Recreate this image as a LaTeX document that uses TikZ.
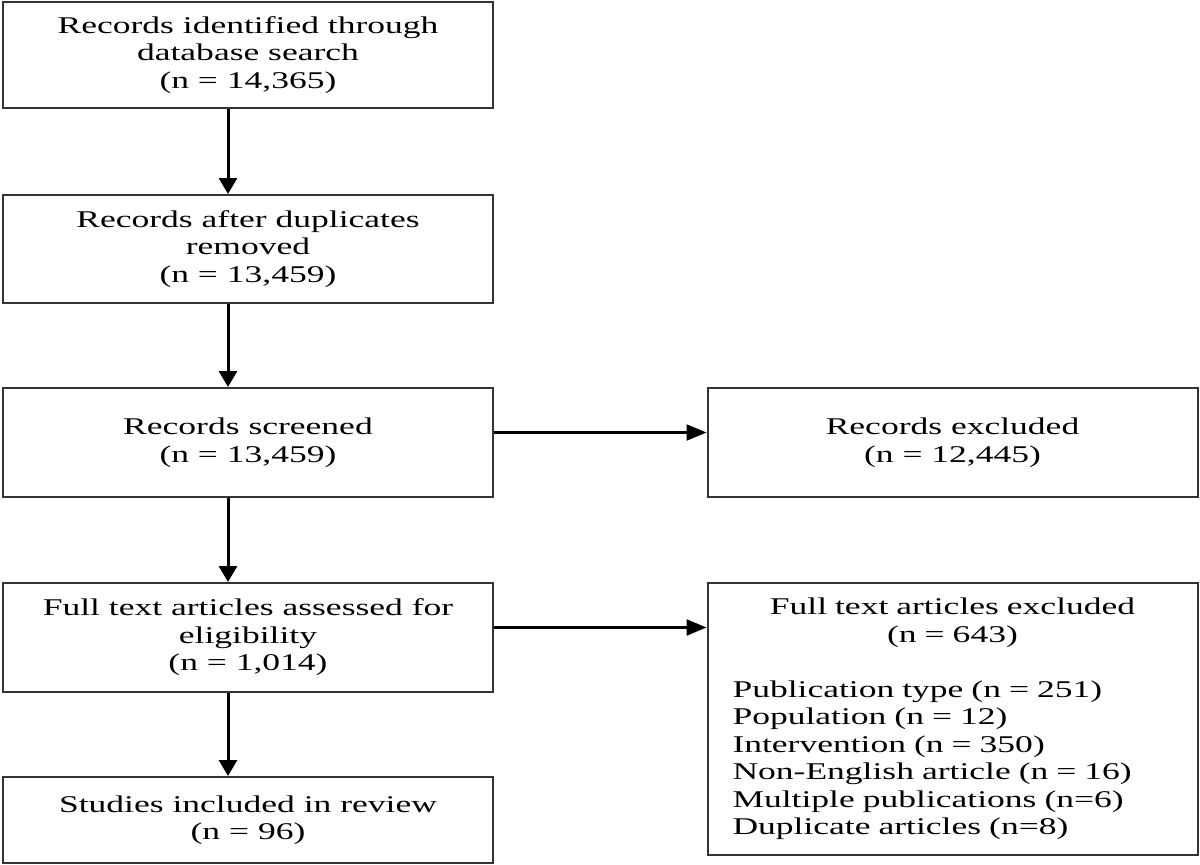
\documentclass[tikz,border=0pt]{standalone}
\usepackage{fontspec}
\setmainfont{Liberation Serif}[FakeStretch=1.48]
\usetikzlibrary{arrows.meta}
\tikzset{>=Triangle}
\tikzset{box/.style={draw=black!80, line width=2pt, minimum width=490pt, align=center, inner sep=0pt, font=\fontsize{24}{27.5}\selectfont}}

\begin{document}
\begin{tikzpicture}[x=1pt, y=-1pt]
\useasboundingbox (0,0) rectangle (1200,865);
\node[box, minimum height=106pt] (ident) at (248,55) {Records identified through\\database search\\(n = 14,365)};
\node[box, minimum height=108pt] (dupl) at (248,249) {Records after duplicates\\removed\\(n = 13,459)};
\node[box, minimum height=109pt] (screened) at (248,442.5) {Records screened\\(n = 13,459)};
\node[box, minimum height=109pt] (fulltext) at (248,637.5) {Full text articles assessed for\\eligibility\\(n = 1,014)};
\node[box, minimum height=86pt] (included) at (248,820) {Studies included in review\\(n = 96)};
\node[box, minimum height=109pt] (recexcl) at (952.5,442.5) {Records excluded\\(n = 12,445)};
\node[box, minimum height=272pt, text width=440pt, align=left] (fullexcl) at (952.5,719)
{{\centering Full text articles excluded\\(n = 643)\par}\vspace{\baselineskip}
Publication type (n = 251)\\
Population (n = 12)\\
Intervention (n = 350)\\
Non-English article (n = 16)\\
Multiple publications (n=6)\\
Duplicate articles (n=8)};
\coordinate (spine) at (228,0);
\coordinate (scrout) at ([yshift=10pt]screened.east);
\coordinate (fullout) at ([yshift=10pt]fulltext.east);
\path[-{Triangle[length=16pt,width=18pt]}, line width=3pt]
(ident.south -| spine) edge (dupl.north -| spine)
(dupl.south -| spine) edge (screened.north -| spine)
(screened.south -| spine) edge (fulltext.north -| spine)
(fulltext.south -| spine) edge (included.north -| spine)
;
\path[-{Triangle[length=20pt,width=16pt]}, line width=2.2pt]
(scrout) edge (scrout -| recexcl.west)
(fullout) edge (fullout -| fullexcl.west)
;
\end{tikzpicture}
\end{document}
